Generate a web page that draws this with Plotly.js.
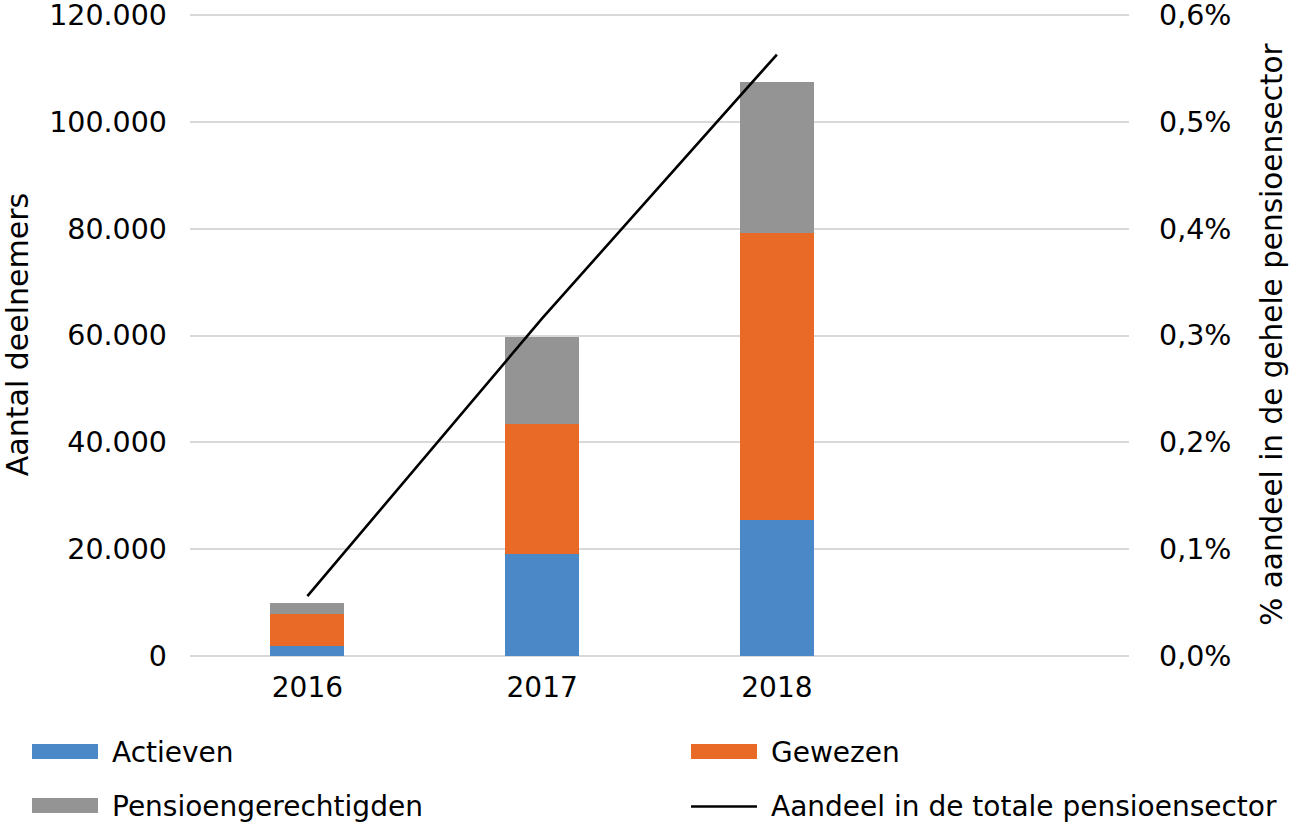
<!DOCTYPE html>
<html>
<head>
<meta charset="utf-8">
<script src="https://cdn.plot.ly/plotly-3.0.1.min.js"></script>
<style>html,body{margin:0;padding:0;background:#fff;}#chart{width:1299px;height:832px;}</style>
</head>
<body>
<div id="chart"></div>
<script>
// Data
const years = ['2016', '2017', '2018'];
const allCategories = ['2016', '2017', '2018', ' '];
const actieven = [1800, 19100, 25400];
const gewezen = [6100, 24400, 53700];
const pensioengerechtigden = [2000, 16300, 28400];
const aandeelPct = [0.056, 0.316, 0.563];
const leftTicks = [0, 20000, 40000, 60000, 80000, 100000, 120000];
const rightTicks = [0, 0.1, 0.2, 0.3, 0.4, 0.5, 0.6];
const rightTickText = rightTicks.map(v => v.toFixed(1).replace('.', ',') + '%');
const seriesNames = ['Actieven', 'Gewezen', 'Pensioengerechtigden', 'Aandeel in de totale pensioensector'];
const leftTitle = 'Aantal deelnemers';
const rightTitle = '% aandeel in de gehele pensioensector';

const colors = ['#4a88c7', '#e96a26', '#949494', '#000000'];
const FONT = 'DejaVu Sans, Verdana, sans-serif';

const W = 1299, H = 832;
const L = 190, R = 1129, T = 13, B = 656.5;
const GRID_TOP = 15;
const LEFT_MAX = 120000, RIGHT_MAX = 0.6;
const scaleExt = (B - T) / (B - GRID_TOP);
const px2x = p => (p - L) / (R - L);
const py2y = p => (B - p) / (B - T);

const traces = [
  {type: 'bar', x: years, y: actieven, name: seriesNames[0], marker: {color: colors[0]}},
  {type: 'bar', x: years, y: gewezen, name: seriesNames[1], marker: {color: colors[1]}},
  {type: 'bar', x: years, y: pensioengerechtigden, name: seriesNames[2], marker: {color: colors[2]}},
  {type: 'scatter', mode: 'lines', x: years, y: aandeelPct, name: seriesNames[3], yaxis: 'y2',
   line: {color: colors[3], width: 2.6}}
];

// manual legend
const legendItems = [
  {name: seriesNames[0], kind: 'bar', color: colors[0], x: 32, y: 752},
  {name: seriesNames[1], kind: 'bar', color: colors[1], x: 691, y: 752},
  {name: seriesNames[2], kind: 'bar', color: colors[2], x: 32, y: 806},
  {name: seriesNames[3], kind: 'line', color: colors[3], x: 691, y: 806}
];
const shapes = [];
const annotations = [];
legendItems.forEach(it => {
  if (it.kind === 'bar') {
    shapes.push({type: 'rect', xref: 'paper', yref: 'paper',
      x0: px2x(it.x), x1: px2x(it.x + 66), y0: py2y(it.y - 7.5), y1: py2y(it.y + 7.5),
      fillcolor: it.color, line: {width: 0}});
  } else {
    shapes.push({type: 'line', xref: 'paper', yref: 'paper',
      x0: px2x(it.x), x1: px2x(it.x + 66), y0: py2y(it.y + 1), y1: py2y(it.y + 1),
      line: {color: it.color, width: 2.5}});
  }
  annotations.push({xref: 'paper', yref: 'paper', x: px2x(it.x + 78), y: py2y(it.y + 1),
    xanchor: 'left', yanchor: 'middle', showarrow: false, text: it.name,
    font: {family: FONT, size: 28, color: '#000'}});
});

const layout = {
  width: W, height: H,
  margin: {l: L, r: W - R, t: T, b: H - B, pad: 0},
  paper_bgcolor: '#fff', plot_bgcolor: '#fff',
  separators: ',.',
  barmode: 'stack',
  bargap: 0.685,
  showlegend: false,
  font: {family: FONT, size: 28, color: '#000'},
  xaxis: {
    type: 'category', categoryorder: 'array', categoryarray: allCategories,
    range: [-0.5, 3.5], showgrid: false, zeroline: false, showline: false,
    ticks: '', ticklabelstandoff: 12,
    tickfont: {family: FONT, size: 28, color: '#000'}
  },
  yaxis: {
    range: [0, LEFT_MAX * scaleExt], tickvals: leftTicks,
    tickformat: ',d', showgrid: true, gridcolor: '#d9d9d9', gridwidth: 2,
    zeroline: true, zerolinecolor: '#d9d9d9', zerolinewidth: 2, showline: false,
    ticks: '', ticklabelstandoff: 22, ticklabeloverflow: 'allow',
    tickfont: {family: FONT, size: 28.5, color: '#000'},
    title: {text: leftTitle, font: {family: FONT, size: 30, color: '#000'}, standoff: 17}
  },
  yaxis2: {
    overlaying: 'y', side: 'right', range: [0, RIGHT_MAX * scaleExt],
    tickvals: rightTicks, ticktext: rightTickText, tickmode: 'array',
    showgrid: false, zeroline: false, showline: false, ticks: '', ticklabelstandoff: 29,
    ticklabeloverflow: 'allow',
    tickfont: {family: FONT, size: 28.5, color: '#000'},
    title: {text: rightTitle, font: {family: FONT, size: 29.5, color: '#000'}, standoff: 30}
  },
  shapes: shapes,
  annotations: annotations
};

Plotly.newPlot('chart', traces, layout, {displayModeBar: false, staticPlot: true});
</script>
</body>
</html>
